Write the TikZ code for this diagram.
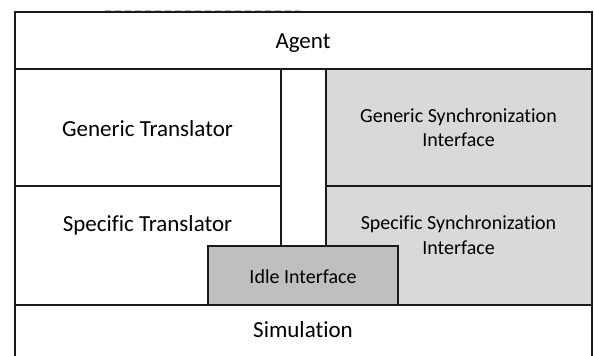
\documentclass[tikz,border=0pt]{standalone}
\usepackage{fontspec}
\setmainfont[Ligatures=NoCommon]{Carlito}
\definecolor{syncgray}{HTML}{D9D9D9}
\definecolor{idlegray}{HTML}{BFBFBF}
\definecolor{edge}{HTML}{1A1A1A}
\begin{document}
\begin{tikzpicture}[x=0.5pt,y=-0.5pt,
  frame/.style={draw=edge,line width=1pt},
  biglabel/.style={anchor=base,inner sep=0pt,font=\fontsize{11.5pt}{14pt}\selectfont,text=black},
  smalllabel/.style={anchor=base,inner sep=0pt,font=\fontsize{10pt}{12pt}\selectfont,text=black}]
\useasboundingbox (0,0) rectangle (594,356);
\begin{scope}
  \clip (0,0) rectangle (594,356);
  % shaded synchronization layer on the right
  \fill[syncgray] (326,69) rectangle (591.5,305);
  % dashed trace along the top edge
  \draw[gray!55,line width=0.7pt,dash pattern=on 3pt off 2pt] (105,11.2) -- (300,11.2);
  % outer frame, open below the picture edge
  \draw[frame] (14.5,12.5) rectangle (591.5,370);
  % layer separators
  \draw[frame] (14.5,69) -- (591.5,69);
  \draw[frame] (14.5,305) -- (591.5,305);
  \draw[frame] (14.5,186) -- (281,186);
  \draw[frame] (326,186) -- (591.5,186);
  % central channel
  \draw[frame] (281,69) -- (281,246);
  \draw[frame] (326,69) -- (326,246);
  % idle interface block
  \draw[frame,fill=idlegray] (208,246) rectangle (398,305);
\end{scope}
% labels
\node[biglabel] (agent) at (303,49) {Agent};
\node[biglabel] (gentr) at (147.5,136.5) {Generic Translator};
\node[biglabel] (spectr) at (147.5,232) {Specific Translator};
\node[smalllabel] (gensyncA) at (458.5,122.5) {Generic Synchronization};
\node[smalllabel] (gensyncB) at (458.5,146.5) {Interface};
\node[smalllabel] (specsyncA) at (458.5,230) {Specific Synchronization};
\node[smalllabel] (specsyncB) at (458.5,255) {Interface};
\node[smalllabel] (idle) at (303,283.5) {Idle Interface};
\node[biglabel] (sim) at (303,338) {Simulation};
\end{tikzpicture}
\end{document}
